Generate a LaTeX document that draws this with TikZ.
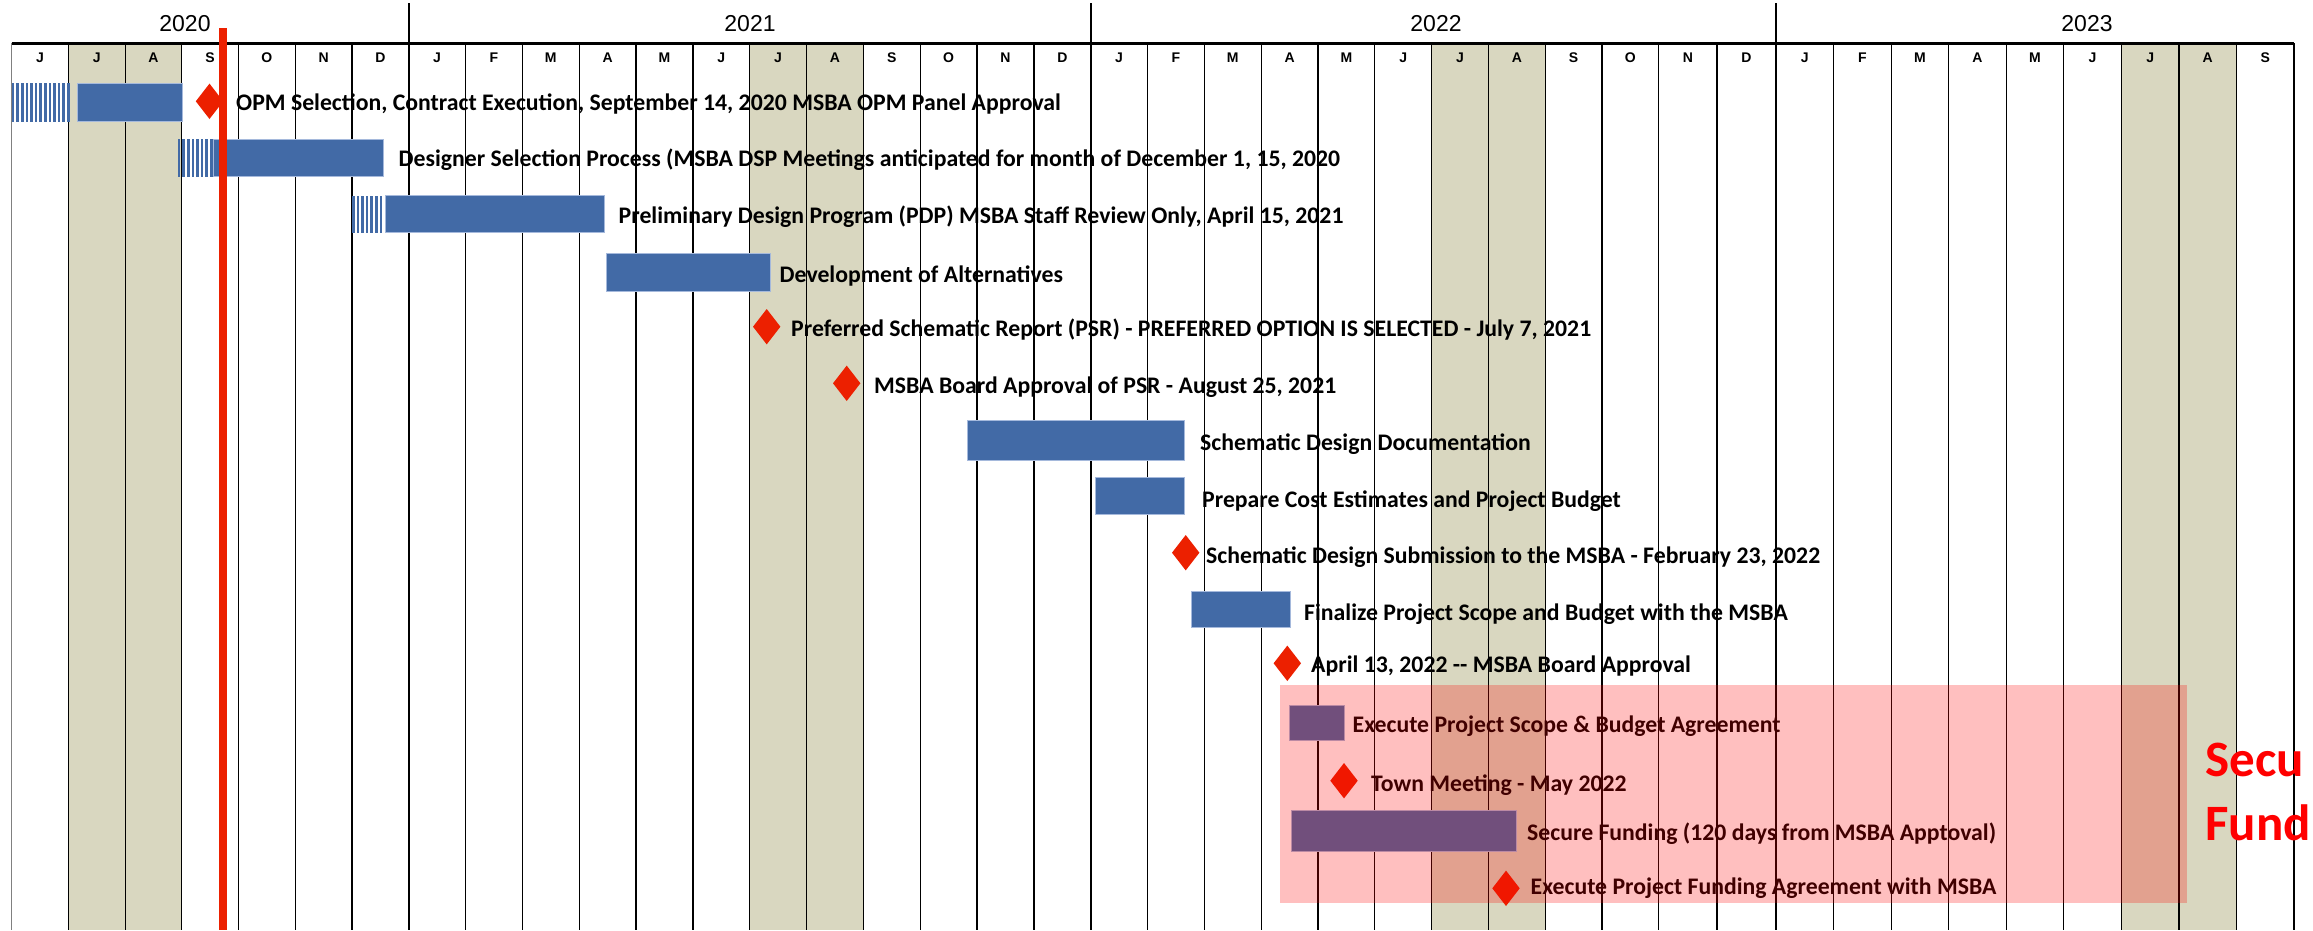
\documentclass[tikz,border=0pt]{standalone}
\usepackage{fontspec}
\setmainfont{Carlito}
\newfontfamily\arialf{Liberation Sans}
\definecolor{tancol}{RGB}{217,215,192}
\definecolor{barblue}{RGB}{66,106,166}
\definecolor{baredge}{RGB}{165,185,220}
\definecolor{msred}{RGB}{236,32,0}
\newcommand{\mstone}[3]{\fill[msred] (#1,#2) +(0,-17.7) -- +(13.7,0) -- +(0,17.7) -- +(-13.7,0) -- cycle; \coordinate (#3) at (#1,#2);}
\begin{document}
\begin{tikzpicture}[x=1pt,y=-1pt,
  gridline/.style={black,line width=1.2pt},
  yearline/.style={black,line width=2pt},
  bar/.style={fill=barblue,draw=baredge,line width=0.8pt},
  task/.style={anchor=base west,inner sep=0pt,font=\fontsize{23.75}{28}\selectfont\bfseries},
  mlab/.style={anchor=base,inner sep=0pt,font=\arialf\fontsize{14}{16}\selectfont\bfseries},
  ylab/.style={anchor=base,inner sep=0pt,font=\arialf\fontsize{23}{27}\selectfont},
  bigred/.style={anchor=base west,inner sep=0pt,text=red,font=\fontsize{51}{60}\selectfont\bfseries}]
\useasboundingbox (0,0) rectangle (2313,930);
\fill[white] (0,0) rectangle (2313,930);
% shaded summer columns
\foreach \a/\b in {68.4/181.8,749.7/863.4,1431.6/1545.2,2121.4/2236.5}
  \fill[tancol] (\a,43.3) rectangle (\b,930);
% month grid
\draw[gray,line width=1.2pt] (11.7,43.3) -- (11.7,930);
\foreach \x in {68.4,125.1,181.8,238.5,295.3,352.0,465.5,522.4,579.2,636.0,692.9,749.7,806.5,863.4,920.2,977.0,1033.9,1147.5,1204.3,1261.1,1318.0,1374.8,1431.6,1488.4,1545.2,1602.0,1658.8,1717.0,1833.6,1891.1,1948.7,2006.2,2063.8,2121.4,2178.9,2236.5,2294.0}
  \draw[gridline] (\x,43.3) -- (\x,930);
\foreach \x in {408.7,1090.7,1776.0}
  \draw[yearline] (\x,3) -- (\x,930);
\draw[black,line width=3pt] (11.7,43.3) -- (2294,43.3);
% year labels
\node[ylab] (y2020) at (185,31.7) {2020};
\node[ylab] (y2021) at (750,31.7) {2021};
\node[ylab] (y2022) at (1436,31.7) {2022};
\node[ylab] (y2023) at (2087,31.7) {2023};
% month labels
\foreach \a/\b/\l [count=\i] in {11.7/68.4/J,68.4/125.1/J,125.1/181.8/A,181.8/238.5/S,238.5/295.3/O,295.3/352.0/N,352.0/408.7/D,
408.7/465.5/J,465.5/522.4/F,522.4/579.2/M,579.2/636.0/A,636.0/692.9/M,692.9/749.7/J,749.7/806.5/J,806.5/863.4/A,863.4/920.2/S,920.2/977.0/O,977.0/1033.9/N,1033.9/1090.7/D,
1090.7/1147.5/J,1147.5/1204.3/F,1204.3/1261.1/M,1261.1/1318.0/A,1318.0/1374.8/M,1374.8/1431.6/J,1431.6/1488.4/J,1488.4/1545.2/A,1545.2/1602.0/S,1602.0/1658.8/O,1658.8/1717.0/N,1717.0/1776.0/D,
1776.0/1833.6/J,1833.6/1891.1/F,1891.1/1948.7/M,1948.7/2006.2/A,2006.2/2063.8/M,2063.8/2121.4/J,2121.4/2178.9/J,2178.9/2236.5/A,2236.5/2294.0/S}
  \node[mlab] (m\i) at ({(\a+\b)/2},62.5) {\l};
% striped (tentative) portions
\foreach \x in {11.7,16.3,...,69}
  \fill[barblue] (\x,83.3) rectangle ++(2.6,38.4);
\foreach \x in {177.7,182.3,...,211}
  \fill[barblue] (\x,139.3) rectangle ++(2.6,37.4);
\foreach \x in {352,356.6,...,383}
  \fill[barblue] (\x,195.5) rectangle ++(2.6,37);
% bars
\draw[bar] (77.7,83.3) rectangle (182.7,121.7);
\draw[bar] (213.3,139.3) rectangle (383.3,176.7);
\draw[bar] (385.3,195.5) rectangle (604.3,232.5);
\draw[bar] (606.3,253.3) rectangle (770.3,291);
\draw[bar] (967.7,420.7) rectangle (1184.3,460);
\draw[bar] (1095,477.7) rectangle (1184.3,514.3);
\draw[bar] (1191,591) rectangle (1290,627.7);
\draw[bar] (1289.3,705) rectangle (1344.3,740);
\draw[bar] (1291,810.7) rectangle (1516,851.7);
% milestones
\mstone{209.5}{101.3}{d1}
\mstone{766.7}{326.7}{d5}
\mstone{846.7}{383.3}{d6}
\mstone{1185.7}{552.7}{d9}
\mstone{1287.3}{663.3}{d11}
\mstone{1344}{780.7}{d13}
\mstone{1506}{888.3}{d15}
% task labels
\node[task] (t1) at (236,110.7) {OPM Selection, Contract Execution, September 14, 2020 MSBA OPM Panel Approval};
\node[task] (t2) at (398.5,166.7) {Designer Selection Process (MSBA DSP Meetings anticipated for month of December 1, 15, 2020};
\node[task] (t3) at (618.5,223.3) {Preliminary Design Program (PDP) MSBA Staff Review Only, April 15, 2021};
\node[task] (t4) at (779.5,282.7) {Development of Alternatives};
\node[task] (t5) at (791,336) {Preferred Schematic Report (PSR) - PREFERRED OPTION IS SELECTED - July 7, 2021};
\node[task] (t6) at (874,393.3) {MSBA Board Approval of PSR - August 25, 2021};
\node[task] (t7) at (1200,450) {Schematic Design Documentation};
\node[task] (t8) at (1202,507.3) {Prepare Cost Estimates and Project Budget};
\node[task] (t9) at (1206,563.3) {Schematic Design Submission to the MSBA - February 23, 2022};
\node[task] (t10) at (1304,620.3) {Finalize Project Scope and Budget with the MSBA};
\node[task] (t11) at (1311,672.7) {April 13, 2022 -{}- MSBA Board Approval};
\node[task] (t12) at (1352.5,732.7) {Execute Project Scope \& Budget Agreement};
\node[task] (t13) at (1371,791.7) {Town Meeting - May 2022};
\node[task] (t14) at (1527,840) {Secure Funding (120 days from MSBA Apptoval)};
\node[task] (t15) at (1530.5,894) {Execute Project Funding Agreement with MSBA};
% today line
\fill[msred] (219,28.3) rectangle (226.7,930);
% translucent highlight
\fill[red,fill opacity=0.25] (1280,685) rectangle (2186.7,902.7);
\node[bigred] (sf1) at (2205,776.7) {Secu};
\node[bigred] (sf2) at (2205,840) {Fund};
\end{tikzpicture}
\end{document}
